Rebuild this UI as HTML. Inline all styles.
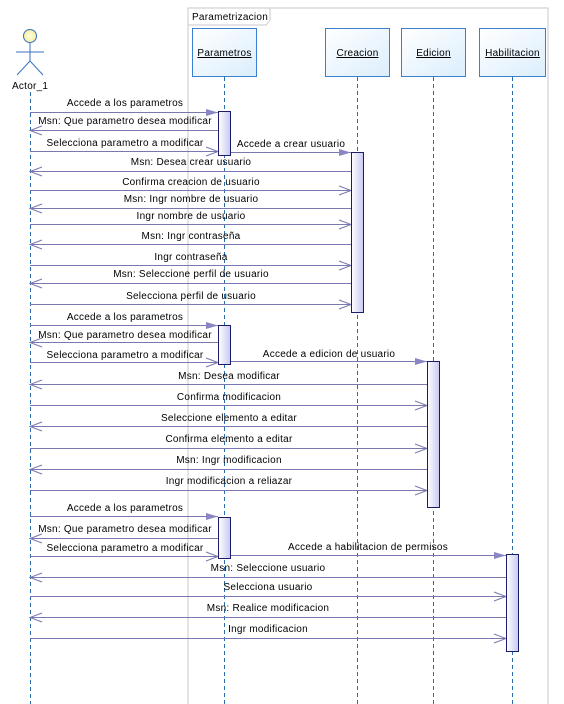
<!DOCTYPE html>
<html><head><meta charset="utf-8">
<style>
html,body{margin:0;padding:0;background:#fff;width:564px;height:704px;overflow:hidden}
text{font-family:"Liberation Sans",sans-serif;font-size:10px;fill:#000;letter-spacing:0.25px}
</style></head><body>
<svg width="564" height="704" viewBox="0 0 564 704" xmlns="http://www.w3.org/2000/svg">
<defs>
<linearGradient id="bx" x1="0" y1="0" x2="1" y2="1"><stop offset="0" stop-color="#ffffff"/><stop offset="1" stop-color="#dbeefc"/></linearGradient>
<linearGradient id="ac" x1="0" y1="0" x2="1" y2="0"><stop offset="0" stop-color="#ffffff"/><stop offset="1" stop-color="#c8c8f0"/></linearGradient>
<radialGradient id="hd"><stop offset="0" stop-color="#ffffe0"/><stop offset="1" stop-color="#f4f0a0"/></radialGradient>
</defs>
<polyline points="188,704 188,8 548,8 548,704" fill="none" stroke="#c8c8d0" stroke-width="1"/>
<polyline points="188,25 266,25 270,20 270,8" fill="none" stroke="#c8c8d0"/>
<text x="192" y="20">Parametrizacion</text>
<circle cx="30" cy="36" r="6.5" fill="url(#hd)" stroke="#3a70c0"/>
<g stroke="#3a70c0" fill="none"><line x1="30" y1="43" x2="30" y2="61"/><line x1="16" y1="52" x2="44" y2="52"/><line x1="30" y1="61" x2="17" y2="75"/><line x1="30" y1="61" x2="43" y2="75"/></g>
<text x="12" y="89">Actor_1</text>
<g stroke="#2b6cb0" stroke-dasharray="4,3" stroke-width="1">
<line x1="30.5" y1="92" x2="30.5" y2="704"/>
<line x1="224.5" y1="77" x2="224.5" y2="704"/>
<line x1="357.5" y1="77" x2="357.5" y2="704"/>
<line x1="433.5" y1="77" x2="433.5" y2="704"/>
<line x1="512.5" y1="77" x2="512.5" y2="704"/>
</g>
<g fill="url(#bx)" stroke="#3a80d0">
<rect x="192.5" y="28.5" width="64" height="48"/>
<rect x="325.5" y="28.5" width="64" height="48"/>
<rect x="401.5" y="28.5" width="64" height="48"/>
<rect x="479.5" y="28.5" width="66" height="48"/>
</g>
<g text-anchor="middle">
<text x="224.5" y="56" text-decoration="underline">Parametros</text>
<text x="357.5" y="56" text-decoration="underline">Creacion</text>
<text x="433.5" y="56" text-decoration="underline">Edicion</text>
<text x="512.5" y="56" text-decoration="underline">Habilitacion</text>
</g>
<g stroke="#7a78b0" stroke-width="1" fill="none">
<line x1="30" y1="112.5" x2="218" y2="112.5"/>
<line x1="30" y1="130.5" x2="218" y2="130.5"/>
<line x1="30" y1="151.5" x2="218" y2="151.5"/>
<line x1="230" y1="152.5" x2="351" y2="152.5"/>
<line x1="30" y1="171.5" x2="351" y2="171.5"/>
<line x1="30" y1="190.5" x2="351" y2="190.5"/>
<line x1="30" y1="208.5" x2="351" y2="208.5"/>
<line x1="30" y1="224.5" x2="351" y2="224.5"/>
<line x1="30" y1="244.5" x2="351" y2="244.5"/>
<line x1="30" y1="265.5" x2="351" y2="265.5"/>
<line x1="30" y1="283.5" x2="351" y2="283.5"/>
<line x1="30" y1="304.5" x2="351" y2="304.5"/>
<line x1="30" y1="325.5" x2="218" y2="325.5"/>
<line x1="30" y1="342.5" x2="218" y2="342.5"/>
<line x1="30" y1="362.5" x2="218" y2="362.5"/>
<line x1="230" y1="361.5" x2="427" y2="361.5"/>
<line x1="30" y1="384.5" x2="427" y2="384.5"/>
<line x1="30" y1="405.5" x2="427" y2="405.5"/>
<line x1="30" y1="426.5" x2="427" y2="426.5"/>
<line x1="30" y1="448.5" x2="427" y2="448.5"/>
<line x1="30" y1="469.5" x2="427" y2="469.5"/>
<line x1="30" y1="490.5" x2="427" y2="490.5"/>
<line x1="30" y1="516.5" x2="218" y2="516.5"/>
<line x1="30" y1="538.5" x2="218" y2="538.5"/>
<line x1="30" y1="556.5" x2="218" y2="556.5"/>
<line x1="230" y1="555.5" x2="506" y2="555.5"/>
<line x1="30" y1="577.5" x2="506" y2="577.5"/>
<line x1="30" y1="596.5" x2="506" y2="596.5"/>
<line x1="30" y1="617.5" x2="506" y2="617.5"/>
<line x1="30" y1="638.5" x2="506" y2="638.5"/>
<polyline points="42,126 30,130.5 42,135"/>
<polyline points="42,167 30,171.5 42,176"/>
<polyline points="42,204 30,208.5 42,213"/>
<polyline points="42,240 30,244.5 42,249"/>
<polyline points="42,279 30,283.5 42,288"/>
<polyline points="42,338 30,342.5 42,347"/>
<polyline points="42,380 30,384.5 42,389"/>
<polyline points="42,422 30,426.5 42,431"/>
<polyline points="42,465 30,469.5 42,474"/>
<polyline points="42,534 30,538.5 42,543"/>
<polyline points="42,573 30,577.5 42,582"/>
<polyline points="42,613 30,617.5 42,622"/>
<polyline points="206,147 218,151.5 206,156"/>
<polyline points="339,186 351,190.5 339,195"/>
<polyline points="339,220 351,224.5 339,229"/>
<polyline points="339,261 351,265.5 339,270"/>
<polyline points="339,300 351,304.5 339,309"/>
<polyline points="206,358 218,362.5 206,367"/>
<polyline points="415,401 427,405.5 415,410"/>
<polyline points="415,444 427,448.5 415,453"/>
<polyline points="415,486 427,490.5 415,495"/>
<polyline points="206,552 218,556.5 206,561"/>
<polyline points="494,592 506,596.5 494,601"/>
<polyline points="494,634 506,638.5 494,643"/>
</g>
<g fill="#8a86c4">
<polygon points="206,109 218,112.5 206,116"/>
<polygon points="339,149 351,152.5 339,156"/>
<polygon points="206,322 218,325.5 206,329"/>
<polygon points="415,358 427,361.5 415,365"/>
<polygon points="206,513 218,516.5 206,520"/>
<polygon points="494,552 506,555.5 494,559"/>
</g>
<g fill="url(#ac)" stroke="#1c1c6c">
<rect x="218.5" y="111.5" width="12" height="44"/>
<rect x="351.5" y="152.5" width="12" height="160"/>
<rect x="218.5" y="325.5" width="12" height="39"/>
<rect x="427.5" y="361.5" width="12" height="146"/>
<rect x="218.5" y="517.5" width="12" height="41"/>
<rect x="506.5" y="554.5" width="12" height="97"/>
</g>
<g text-anchor="middle">
<text x="125" y="106">Accede a los parametros</text>
<text x="125" y="124">Msn: Que parametro desea modificar</text>
<text x="125" y="146">Selecciona parametro a modificar</text>
<text x="291" y="147">Accede a crear usuario</text>
<text x="191" y="165">Msn: Desea crear usuario</text>
<text x="191" y="185">Confirma creacion de usuario</text>
<text x="191" y="202">Msn: Ingr nombre de usuario</text>
<text x="191" y="219">Ingr nombre de usuario</text>
<text x="191" y="239">Msn: Ingr contraseña</text>
<text x="191" y="260">Ingr contraseña</text>
<text x="191" y="277">Msn: Seleccione perfil de usuario</text>
<text x="191" y="299">Selecciona perfil de usuario</text>
<text x="125" y="320">Accede a los parametros</text>
<text x="125" y="338">Msn: Que parametro desea modificar</text>
<text x="125" y="358">Selecciona parametro a modificar</text>
<text x="329" y="357">Accede a edicion de usuario</text>
<text x="229" y="379">Msn: Desea modificar</text>
<text x="229" y="400">Confirma modificacion</text>
<text x="229" y="421">Seleccione elemento a editar</text>
<text x="229" y="442">Confirma elemento a editar</text>
<text x="229" y="463">Msn: Ingr modificacion</text>
<text x="229" y="484">Ingr modificacion a reliazar</text>
<text x="125" y="511">Accede a los parametros</text>
<text x="125" y="532">Msn: Que parametro desea modificar</text>
<text x="125" y="551">Selecciona parametro a modificar</text>
<text x="368" y="550">Accede a habilitacion de permisos</text>
<text x="268" y="571">Msn: Seleccione usuario</text>
<text x="268" y="590">Selecciona usuario</text>
<text x="268" y="611">Msn: Realice modificacion</text>
<text x="268" y="632">Ingr modificacion</text>
</g>
</svg>
</body></html>
